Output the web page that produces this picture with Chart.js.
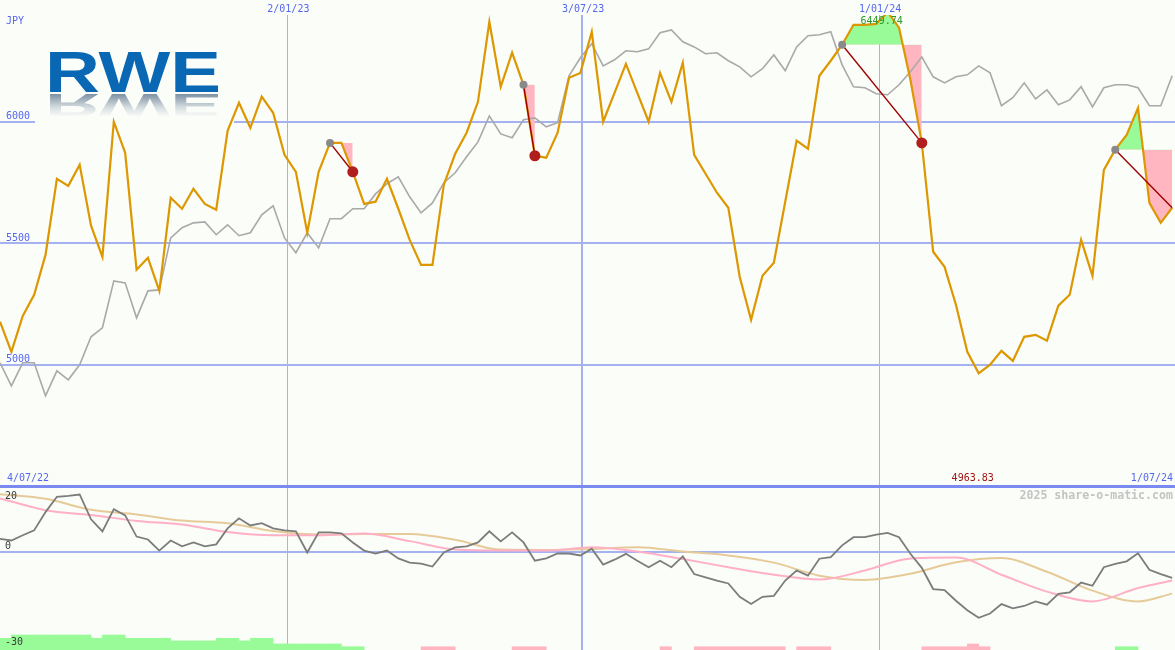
<!DOCTYPE html>
<html>
<head>
<meta charset="utf-8">
<title>RWE</title>
<script src="https://cdn.jsdelivr.net/npm/chart.js@4.4.1/dist/chart.umd.min.js"></script>
<style>
  body { margin: 0; background: #fbfdf9; }
  #wrap { position: relative; width: 1175px; height: 650px; overflow: hidden; }
  #main { position: absolute; left: 0; top: 0; }
  #lower { position: absolute; left: 0; top: 487px; }
  #rule { position: absolute; left: 0; top: 485px; width: 1175px; height: 3px; background: #7a8af0; }
</style>
</head>
<body>
<div id="wrap">
  <canvas id="main" width="1175" height="486"></canvas>
  <canvas id="lower" width="1175" height="163"></canvas>
  <div id="rule"></div>
</div>
<script>
// weekly closes, JPY (index 0 = first week on the left edge)
const gold = [5176,5052,5200,5287,5451,5764,5735,5822,5571,5443,
  5999,5871,5390,5439,5303,5686,5641,5723,5661,5637,
  5962,6077,5974,6102,6036,5863,5793,5542,5793,5912,
  5912,5793,5661,5670,5764,5641,5513,5410,5410,5740,
  5867,5954,6081,6410,6143,6283,6151,5859,5851,5954,
  6180,6200,6369,5999,6118,6237,6118,5999,6200,6081,
  6242,5863,5785,5707,5645,5361,5184,5365,5419,5670,
  5921,5888,6188,6250,6316,6398,6398,6402,6449.74,6386,
  6172,5912,5464,5402,5246,5052,4963.83,4999,5056,5015,
  5114,5122,5098,5242,5287,5513,5365,5801,5884,5945,
  6056,5665,5583,5645];

// comparison line (grey)
const grey = [5007,4912,5007,5007,4871,4974,4937,4999,5114,5151,
  5344,5336,5192,5303,5307,5521,5563,5583,5587,5534,
  5575,5530,5542,5616,5653,5521,5460,5542,5480,5600,
  5600,5641,5641,5702,5744,5772,5690,5624,5665,5748,
  5789,5855,5916,6023,5949,5933,6007,6015,5978,5995,
  6188,6262,6320,6229,6254,6291,6287,6299,6365,6377,
  6328,6307,6279,6283,6250,6225,6184,6217,6274,6209,
  6307,6353,6357,6369,6233,6143,6139,6114,6110,6151,
  6205,6266,6184,6159,6184,6192,6229,6200,6065,6098,
  6159,6093,6130,6069,6089,6143,6060,6139,6151,6151,
  6139,6065,6065,6188];

// trades: entry week, exit week (last one still open)
const tradeEntry = [29, 46, 74, 98];
const tradeExit  = [31, 47, 81, 103];
const tradeOpen  = [false, false, false, true];

// lower panel oscillator
const osc = [4.1,3.6,5.2,6.7,12.3,17.0,17.3,17.7,10.1,6.4,
  13.2,11.3,4.8,3.9,0.5,3.6,1.8,3.0,1.8,2.4,
  7.3,10.4,8.2,8.9,7.3,6.7,6.4,-0.1,6.1,6.1,
  5.8,3.0,0.5,-0.4,0.5,-1.9,-3.2,-3.5,-4.4,-0.1,
  1.5,1.8,3.0,6.4,3.3,6.1,3.0,-2.6,-1.9,-0.4,
  -0.4,-1.0,1.1,-3.8,-2.3,-0.5,-2.6,-4.6,-2.6,-4.6,
  -1.3,-6.7,-7.7,-8.7,-9.6,-13.7,-15.9,-13.7,-13.4,-8.7,
  -5.6,-7.2,-2.0,-1.5,2.1,4.6,4.6,5.4,5.9,4.6,
  -0.5,-4.8,-11.3,-11.6,-14.9,-17.8,-20.1,-18.8,-15.9,-17.2,
  -16.5,-15.1,-16.1,-12.8,-12.3,-9.3,-10.3,-4.6,-3.6,-2.8,
  -0.3,-5.4,-6.7,-7.9];

// smoothed averages, read every 4 weeks
const smoothIdx = [0,4,8,12,16,20,24,28,32,36,40,44,48,52,56,60,64,68,72,76,80,84,88,92,96,100,103];
const pinkVals = [16.5,12.9,11.4,9.6,8.5,6.2,5.2,5.2,5.7,3.4,0.8,0.5,0.5,1.5,0.2,-2.1,-4.6,-6.9,-8.4,-5.6,-1.9,-1.6,-6.9,-12.1,-15.1,-11.0,-8.7];
const tanVals  = [17.8,16.4,13.0,11.6,9.7,8.9,6.5,5.4,5.6,5.6,3.8,0.8,0.7,1.0,1.5,0.2,-1.0,-3.2,-7.2,-8.5,-6.6,-3.1,-1.8,-6.0,-11.8,-15.1,-12.7];

// signal histogram (+ green, - pink)
const hist = [3.6,4.6,4.6,4.6,4.6,4.6,4.6,4.6,3.6,4.6,
  4.6,3.6,3.6,3.6,3.6,2.8,2.8,2.8,2.8,3.6,
  3.6,2.8,3.6,3.6,1.85,1.85,1.85,1.85,1.85,1.85,
  1.0,1.0,0,0,0,0,0,-1.0,-1.0,-1.0,
  0,0,0,0,0,-1.0,-1.0,-1.0,0,0,
  0,0,0,0,0,0,0,0,-1.0,0,
  0,-1.0,-1.0,-1.0,-1.0,-1.0,-1.0,-1.0,-1.0,0,
  -1.0,-1.0,-1.0,0,0,0,0,0,0,0,
  0,-1.0,-1.0,-1.0,-1.0,-1.85,-1.0,0,0,0,
  0,0,0,0,0,0,0,0,1.0,1.0,
  0,0,0,0];

// axis labels
const dateTicks = ['2/01/23', '3/07/23', '1/01/24'];
const dateTickPos = [25.25, 51.15, 77.25];
const startLabel = '4/07/22';
const endLabel = '1/07/24';
const priceTicks = [5000, 5500, 6000];
const oscTicks = [20, 0, -30];

const BG = '#fbfdf9';
const GREEN = '#98fb98';
const PINK = '#ffb6c1';
const BLUE_TXT = '#5566ee';
const GRID = '#a4b2f2';
const FONT = '10px "DejaVu Sans Mono"';

const xMax = 103.25;
const pts = arr => arr.map((v, i) => ({x: i, y: v}));

// ---- main panel datasets
let mainSets = [];
mainSets.push({ data: pts(grey), borderColor: '#a9a9a9', borderWidth: 1.6, order: 5 });

for (let t = 0; t < tradeEntry.length; t++) {
  let a = tradeEntry[t], b = tradeExit[t];
  let lvl = [], seg = [];
  for (let i = a; i <= b; i++) {
    lvl.push({x: i, y: gold[a]});
    seg.push({x: i, y: gold[i]});
  }
  let lvlIndex = mainSets.length;
  mainSets.push({ data: lvl, borderWidth: 0, fill: false, order: 7 });
  mainSets.push({ data: seg, borderWidth: 0, order: 6,
    fill: { target: lvlIndex, above: GREEN, below: PINK } });
}

mainSets.push({ data: pts(gold), borderColor: '#dd9700', borderWidth: 2.2, order: 2 });

for (let t = 0; t < tradeEntry.length; t++) {
  let a = tradeEntry[t], b = tradeExit[t];
  mainSets.push({ data: [{x: a, y: gold[a]}, {x: b, y: gold[b]}],
    borderColor: '#a00000', borderWidth: 1.4, order: 1 });
}

mainSets.push({ data: tradeEntry.map(i => ({x: i, y: gold[i]})), showLine: false,
  pointRadius: 4, pointBackgroundColor: '#8a8a8a', pointBorderWidth: 0, order: 0 });
mainSets.push({ data: tradeExit.filter((v, t) => !tradeOpen[t]).map(i => ({x: i, y: gold[i]})),
  showLine: false, pointRadius: 5.5, pointBackgroundColor: '#b01e1e', pointBorderWidth: 0, order: 0 });

function xScaleOpts() {
  return {
    type: 'linear', min: 0, max: xMax, offset: false,
    afterBuildTicks: s => { s.ticks = dateTickPos.map(v => ({value: v})); },
    ticks: { display: false },
    border: { display: false },
    grid: { color: GRID, drawTicks: false, offset: false,
      lineWidth: c => (c.tick && c.tick.value === dateTickPos[1]) ? 2 : 1 }
  };
}

function drawLogo(ctx) {
  ctx.save();
  ctx.fillStyle = BG;
  ctx.fillRect(35, 42, 199, 82);
  ctx.font = 'bold 58px "Liberation Sans"';
  ctx.textBaseline = 'alphabetic';
  let w = ctx.measureText('RWE').width;
  let sx = 176 / w;
  ctx.save();
  ctx.translate(45, 92);
  ctx.scale(sx, 1);
  ctx.fillStyle = '#0a67b3';
  ctx.fillText('RWE', 0, 0);
  ctx.restore();
  ctx.save();
  ctx.translate(45, 94);
  ctx.scale(sx, -0.55);
  ctx.fillStyle = '#6f8599';
  ctx.fillText('RWE', 0, 0);
  ctx.restore();
  let g = ctx.createLinearGradient(0, 94, 0, 117);
  g.addColorStop(0, 'rgba(251,253,249,0.1)');
  g.addColorStop(0.6, 'rgba(251,253,249,0.75)');
  g.addColorStop(1, 'rgba(251,253,249,1)');
  ctx.fillStyle = g;
  ctx.fillRect(35, 94, 199, 26);
  ctx.restore();
}

const mainText = {
  id: 'mainText',
  beforeDatasetsDraw(chart) { drawLogo(chart.ctx); },
  afterDraw(chart) {
    const ctx = chart.ctx, xs = chart.scales.x, ys = chart.scales.y;
    ctx.save();
    ctx.font = FONT;
    ctx.textBaseline = 'middle';
    ctx.fillStyle = BLUE_TXT;
    ctx.textAlign = 'left';
    ctx.fillText('JPY', 6, 21);
    for (let v of priceTicks) ctx.fillText(String(v), 6, ys.getPixelForValue(v) - 5);
    ctx.fillText(startLabel, 7, 478);
    ctx.textAlign = 'right';
    ctx.fillText(endLabel, 1173, 478);
    ctx.textAlign = 'center';
    for (let k = 0; k < dateTicks.length; k++) {
      let px = xs.getPixelForValue(dateTickPos[k]);
      ctx.fillStyle = BG;
      ctx.fillRect(px - 22, 0, 44, 15);
      ctx.fillStyle = BLUE_TXT;
      ctx.fillText(dateTicks[k], px + 1, 9);
    }
    let maxI = gold.indexOf(Math.max(...gold));
    let minI = gold.indexOf(Math.min(...gold));
    ctx.fillStyle = '#2a9a2a';
    ctx.fillText(gold[maxI].toFixed(2), xs.getPixelForValue(maxI) - 6, 21);
    ctx.fillStyle = '#a01414';
    ctx.fillText(gold[minI].toFixed(2), xs.getPixelForValue(minI) - 6, 478);
    ctx.restore();
  }
};

new Chart(document.getElementById('main'), {
  type: 'line',
  data: { datasets: mainSets },
  options: {
    responsive: false, animation: false, events: [],
    layout: { padding: 0, autoPadding: false },
    elements: { point: { radius: 0 }, line: { tension: 0 } },
    plugins: { legend: { display: false }, tooltip: { enabled: false } },
    scales: {
      x: xScaleOpts(),
      y: {
        min: 4500, max: 6500,
        afterBuildTicks: s => { s.ticks = priceTicks.map(v => ({value: v})); },
        ticks: { display: false },
        border: { display: false },
        grid: { color: GRID, lineWidth: 2, drawTicks: false }
      }
    }
  },
  plugins: [mainText]
});

// ---- lower panel
const lowerText = {
  id: 'lowerText',
  afterDraw(chart) {
    const ctx = chart.ctx, ys = chart.scales.y;
    ctx.save();
    ctx.font = FONT;
    ctx.textBaseline = 'middle';
    ctx.fillStyle = '#3a3a3a';
    ctx.textAlign = 'left';
    ctx.fillText(String(oscTicks[0]), 5, ys.getPixelForValue(oscTicks[0]) + 9);
    ctx.fillText(String(oscTicks[1]), 5, ys.getPixelForValue(oscTicks[1]) - 6);
    ctx.fillText(String(oscTicks[2]), 5, ys.getPixelForValue(oscTicks[2]) - 8);
    ctx.font = 'bold 11.6px "DejaVu Sans Mono"';
    ctx.fillStyle = '#c4c4c4';
    ctx.textAlign = 'right';
    ctx.fillText('2025 share-o-matic.com', 1173, 9);
    ctx.restore();
  }
};

let barData = [], barColors = [];
hist.forEach((v, i) => {
  if (v !== 0) {
    barData.push({x: i + 0.5, y: [-30, -30 + Math.abs(v)]});
    barColors.push(v > 0 ? GREEN : PINK);
  }
});

new Chart(document.getElementById('lower'), {
  type: 'line',
  data: {
    datasets: [
      { data: pts(osc), borderColor: '#7c7c7c', borderWidth: 1.8, order: 0 },
      { data: smoothIdx.map((x, k) => ({x: x, y: pinkVals[k]})), borderColor: '#ffb0c6',
        borderWidth: 2, cubicInterpolationMode: 'monotone', order: 1 },
      { data: smoothIdx.map((x, k) => ({x: x, y: tanVals[k]})), borderColor: '#e6cb98',
        borderWidth: 2, cubicInterpolationMode: 'monotone', order: 2 },
      { type: 'bar', data: barData, backgroundColor: barColors, borderWidth: 0,
        barPercentage: 1, categoryPercentage: 1, order: 3 }
    ]
  },
  options: {
    responsive: false, animation: false, events: [],
    layout: { padding: 0, autoPadding: false },
    elements: { point: { radius: 0 } },
    plugins: { legend: { display: false }, tooltip: { enabled: false } },
    scales: {
      x: xScaleOpts(),
      y: {
        min: -30, max: 20,
        afterBuildTicks: s => { s.ticks = [{value: 0}]; },
        ticks: { display: false },
        border: { display: false },
        grid: { color: GRID, lineWidth: 2, drawTicks: false }
      }
    }
  },
  plugins: [lowerText]
});
</script>
</body>
</html>
